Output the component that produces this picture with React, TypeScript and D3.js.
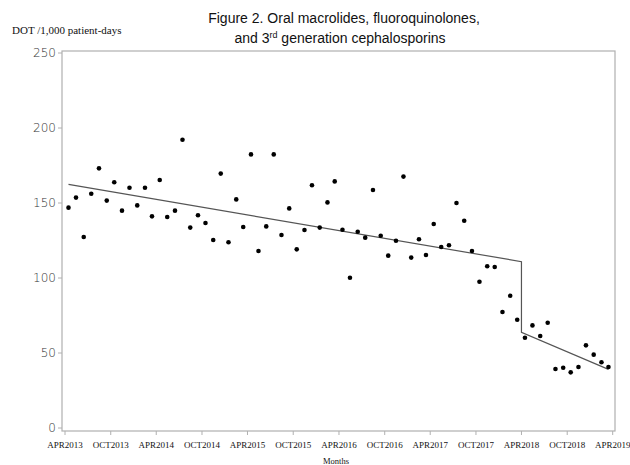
import * as d3 from "d3";

// months from APR2013 to MAR2019, plotted at mid-month
const startYear = 2013;
const startMonth = 3; // April (0-based)
const dotValues = [
  146.9, 153.6, 127.3, 156.2, 173.1, 151.6, 163.8, 144.9, 160.2, 148.4, 160.2, 141.1,
  165.3, 140.7, 144.9, 192.2, 133.6, 141.8, 136.7, 125.3, 169.6, 123.8, 152.4, 134.0,
  182.4, 118.0, 134.4, 182.4, 128.7, 146.4, 119.1, 132.0, 161.8, 133.6, 150.4, 164.4,
  132.2, 100.2, 130.8, 126.9, 158.7, 128.2, 114.9, 124.8, 167.6, 113.6, 125.8, 115.3,
  136.0, 120.7, 121.8, 150.0, 138.2, 118.0, 97.5, 107.8, 107.3, 77.3, 88.2, 72.2,
  60.2, 68.4, 61.3, 70.2, 39.3, 40.2, 37.1, 40.7, 55.1, 48.9, 43.8, 40.7,
];

// segmented regression fit (interrupted at APR2018)
const fitDates = [
  new Date(2013, 3, 15),
  new Date(2018, 3, 1),
  new Date(2018, 3, 1),
  new Date(2019, 2, 15),
];
const fitValues = [162.4, 110.9, 63.8, 39.1];

const tickLabels = [
  "APR2013", "OCT2013", "APR2014", "OCT2014", "APR2015", "OCT2015", "APR2016",
  "OCT2016", "APR2017", "OCT2017", "APR2018", "OCT2018", "APR2019",
];
const yTicks = [0, 50, 100, 150, 200, 250];

const width = 630;
const height = 465;
const frameLeft = 62;
const frameRight = 615;
const frameTop = 51;
const frameBottom = 431;

const dates = dotValues.map((_, i) => new Date(startYear, startMonth + i, 15));
const tickDates = tickLabels.map((_, i) => new Date(startYear, startMonth + i * 6, 1));

const x = d3
  .scaleTime()
  .domain([new Date(2013, 3, 1), new Date(2019, 3, 1)])
  .range([65, 612.7]);

const y = d3.scaleLinear().domain([0, 250]).range([428, 53]);

const line = d3
  .line<number>()
  .x((_, i) => x(fitDates[i]))
  .y((d) => y(d));

const axisColor = "#b0b0b0";

export default function App() {
  return (
    <svg width={width} height={height} style={{ position: "absolute", left: 0, top: 0 }}>
      <rect width={width} height={height} fill="#fff" />
      {/* title */}
      <text
        x={344}
        y={23}
        textAnchor="middle"
        fontFamily="Liberation Sans, Arial, sans-serif"
        fontSize={14}
        fill="#111"
      >
        Figure 2. Oral macrolides, fluoroquinolones,
      </text>
      <text
        x={340}
        y={43}
        textAnchor="middle"
        fontFamily="Liberation Sans, Arial, sans-serif"
        fontSize={14}
        fill="#111"
      >
        and 3<tspan fontSize={9} dy={-5}>rd</tspan>
        <tspan dy={5}> generation cephalosporins</tspan>
      </text>
      <text
        x={12}
        y={34}
        fontFamily="Liberation Serif, Times New Roman, serif"
        fontSize={11}
        fill="#111"
      >
        DOT /1,000 patient-days
      </text>

      {/* frame */}
      <rect
        x={frameLeft}
        y={frameTop}
        width={frameRight - frameLeft}
        height={frameBottom - frameTop}
        fill="none"
        stroke={axisColor}
        strokeWidth={1.2}
      />

      {/* y axis */}
      <g>
        {yTicks.map((t) => (
          <g key={t}>
            <line x1={frameLeft - 4} x2={frameLeft} y1={y(t)} y2={y(t)} stroke={axisColor} />
            <text
              x={frameLeft - 6}
              y={y(t)}
              dy="0.35em"
              textAnchor="end"
              fontFamily="DejaVu Sans, sans-serif"
              fontSize={12}
              fontWeight={300}
              fill="#333"
            >
              {t}
            </text>
          </g>
        ))}
      </g>

      {/* x axis */}
      <g>
        {tickDates.map((d, i) => (
          <g key={tickLabels[i]}>
            <line x1={x(d)} x2={x(d)} y1={frameBottom} y2={frameBottom + 4} stroke={axisColor} />
            <text
              x={x(d)}
              y={447.5}
              textAnchor="middle"
              fontFamily="Liberation Serif, Times New Roman, serif"
              fontSize={9}
              fill="#111"
            >
              {tickLabels[i]}
            </text>
          </g>
        ))}
        <text
          x={336}
          y={464}
          textAnchor="middle"
          fontFamily="Liberation Serif, Times New Roman, serif"
          fontSize={8.5}
          fill="#111"
        >
          Months
        </text>
      </g>

      {/* fitted line */}
      <path d={line(fitValues) ?? ""} fill="none" stroke="#555" strokeWidth={1.2} />

      {/* observations */}
      <g>
        {dotValues.map((v, i) => (
          <circle key={i} cx={x(dates[i])} cy={y(v)} r={2.3} fill="#000" />
        ))}
      </g>
    </svg>
  );
}
